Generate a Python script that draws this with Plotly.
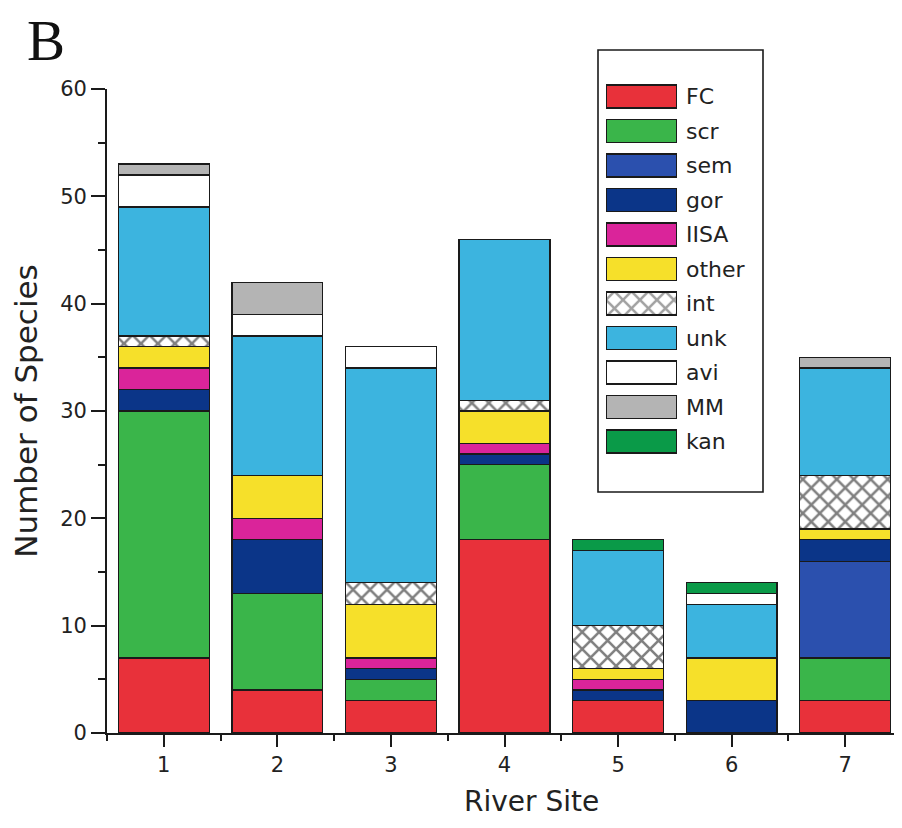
import plotly.graph_objects as go

sites = [1, 2, 3, 4, 5, 6, 7]
site_labels = ["1", "2", "3", "4", "5", "6", "7"]

FC = [7, 4, 3, 18, 3, 0, 3]
scr = [23, 9, 2, 7, 0, 0, 4]
sem = [0, 0, 0, 0, 0, 0, 9]
gor = [2, 5, 1, 1, 1, 3, 2]
IISA = [2, 2, 1, 1, 1, 0, 0]
other = [2, 4, 5, 3, 1, 4, 1]
int_ = [1, 0, 2, 1, 4, 0, 5]
unk = [12, 13, 20, 15, 7, 5, 10]
avi = [3, 2, 2, 0, 0, 1, 0]
MM = [1, 3, 0, 0, 0, 0, 1]
kan = [0, 0, 0, 0, 1, 1, 0]

series_names = ["FC", "scr", "sem", "gor", "IISA", "other", "int", "unk", "avi", "MM", "kan"]
series_values = [FC, scr, sem, gor, IISA, other, int_, unk, avi, MM, kan]
series_colors = ["#E8313A", "#3AB54A", "#2B50AE", "#0B3588", "#DA249A", "#F6E02A",
                 "#FFFFFF", "#3CB4DF", "#FFFFFF", "#B4B4B4", "#0A9A48"]
series_patterns = ["", "", "", "", "", "", "x", "", "", "", ""]
legend_swatch = [1] * len(series_names)

EDGE = "#1a1a1a"
TXT = "#222222"
FONT = "DejaVu Sans, Verdana, sans-serif"

fig = go.Figure()

for name, vals, col, pat in zip(series_names, series_values, series_colors, series_patterns):
    marker = dict(color=col, line=dict(color=EDGE, width=1.3))
    if pat:
        marker["pattern"] = dict(shape=pat, fgcolor="#000000", bgcolor="#FFFFFF",
                                 size=12, solidity=0.38, fillmode="overlay")
    fig.add_trace(go.Bar(x=sites, y=vals, name=name, marker=marker,
                         width=0.8, showlegend=False, xaxis="x", yaxis="y"))

# legend drawn as a small bar chart
fig.add_trace(go.Bar(
    y=series_names, x=legend_swatch, orientation="h", width=0.67,
    marker=dict(color=series_colors, line=dict(color=EDGE, width=1.3),
                pattern=dict(shape=series_patterns, fgcolor="#000000", bgcolor="#FFFFFF",
                             size=12, solidity=0.38, fillmode="overlay")),
    xaxis="x2", yaxis="y2", showlegend=False, hoverinfo="skip"))

OFF = 8  # page body margin
W, H = 894, 820
L, R = 107 - OFF, 0
B = H - (733 - OFF)
T = 70 - OFF
pw = W - L - R
ph = H - T - B

def px(xw):
    return (xw - OFF - L) / pw

def py(yw):
    return (H - B - (yw - OFF)) / ph

ytop = py(89)

fig.update_layout(
    width=W, height=H,
    margin=dict(l=L, r=R, t=T, b=B),
    barmode="stack",
    plot_bgcolor="white", paper_bgcolor="white",
    font=dict(family=FONT, color=TXT, size=21),
    showlegend=False,
    xaxis=dict(
        range=[0.5, 7.5], tickvals=sites, ticktext=site_labels,
        showline=True, linecolor=EDGE, linewidth=1.8,
        ticks="outside", ticklen=12, tickwidth=1.8, tickcolor=EDGE,
        minor=dict(tick0=0.5, dtick=1, ticks="outside", ticklen=6, tickwidth=1.8, tickcolor=EDGE),
        showgrid=False, zeroline=False,
        tickfont=dict(size=21, family=FONT, color=TXT),
    ),
    yaxis=dict(
        domain=[0, ytop], range=[0, 60], dtick=10, tick0=0,
        showline=True, linecolor=EDGE, linewidth=1.8,
        ticks="outside", ticklen=14, tickwidth=1.8, tickcolor=EDGE,
        minor=dict(dtick=5, ticks="outside", ticklen=7, tickwidth=1.8, tickcolor=EDGE),
        showgrid=False, zeroline=False, ticklabelstandoff=0,
        tickfont=dict(size=21, family=FONT, color=TXT),
        title=dict(text="Number of Species", font=dict(size=31, family=FONT, color=TXT), standoff=18),
    ),
    xaxis2=dict(domain=[px(606), px(677)], range=[0, 1], anchor="y2",
                visible=False, fixedrange=True),
    yaxis2=dict(domain=[py(79.25 + 34.5 * 11), py(79.25)], anchor="x2",
                autorange="reversed", side="right", showline=False, showgrid=False,
                zeroline=False, ticks="", ticklabelstandoff=8,
                tickfont=dict(size=22, family=FONT, color=TXT)),
    shapes=[dict(type="rect", xref="paper", yref="paper",
                 x0=px(598), x1=px(763), y0=py(492), y1=py(50),
                 line=dict(color=EDGE, width=1.6), fillcolor="rgba(0,0,0,0)", layer="below")],
    annotations=[
        dict(text="B", xref="paper", yref="paper", x=px(25), y=py(41),
             xanchor="left", yanchor="middle", showarrow=False,
             font=dict(family="Liberation Serif, Times New Roman, serif", size=57, color="#111111")),
        dict(text="River Site", xref="paper", yref="paper", x=px(531), y=py(801),
             xanchor="center", yanchor="middle", showarrow=False,
             font=dict(family=FONT, size=28, color=TXT)),
    ],
)

fig.write_html("out.html")
